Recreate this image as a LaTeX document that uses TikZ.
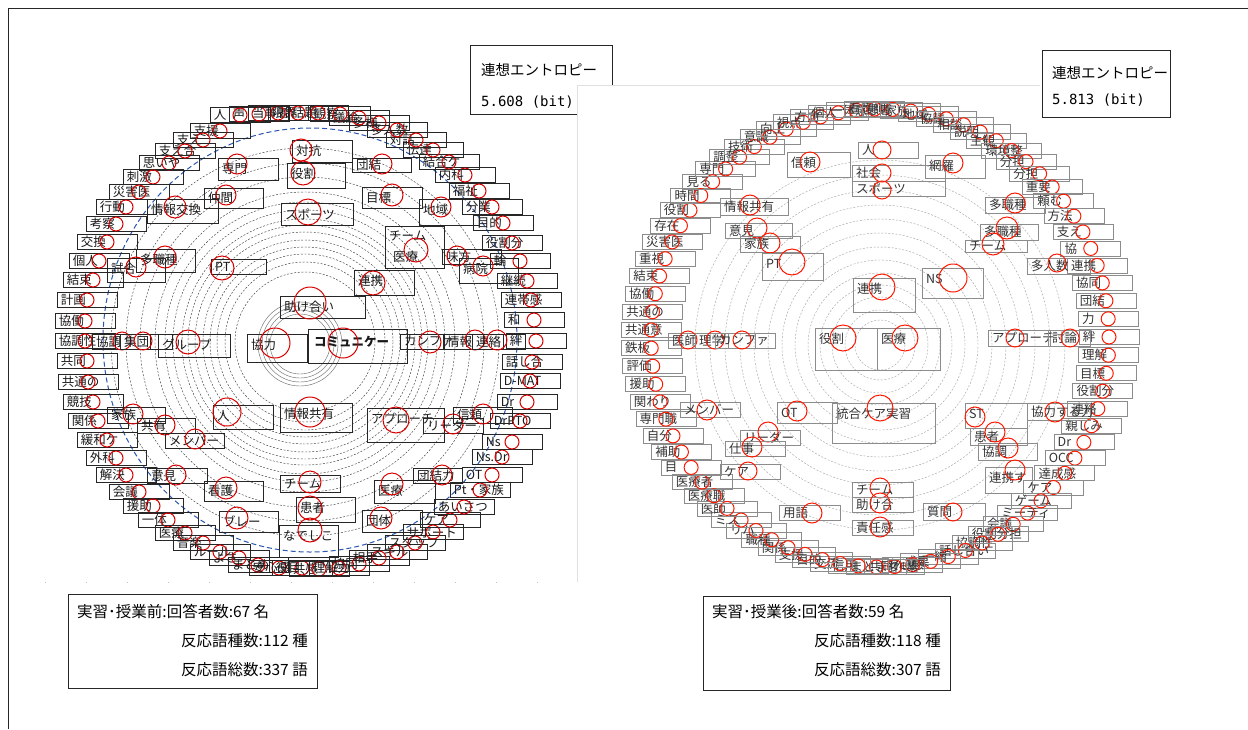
\documentclass[tikz,border=0pt]{standalone}
\usepackage{fontspec}
\newfontfamily\cjk{Noto Sans CJK JP}
\newfontfamily\mono{DejaVu Sans Mono}
\begin{document}
\newcommand\obx[4]{%
 \node[ob] (#1) at (#2,#3) {};%
 \node[tx,anchor=west] (#1t) at (#1.west) {#4};%
 \draw[rc] (#1.center) circle (7pt);}
\newcommand\ibx[9]{%
 \pgfmathsetmacro\bxw{#4-#2}%
 \pgfmathsetmacro\bxh{#5-#3}%
 \pgfmathsetmacro\bxcx{(#2+#4)/2}%
 \pgfmathsetmacro\bxcy{(#3+#5)/2}%
 \pgfmathsetmacro\bxty{#3+min((#5-#3)/2,11)}%
 \node[bx,minimum width=\bxw pt,minimum height=\bxh pt] (#1) at (\bxcx,\bxcy) {};%
 \node[tx,anchor=west] (#1t) at (#2,\bxty) {#6};%
 \draw[rc] (#8,#9) circle (#7pt);}
\begin{tikzpicture}[x=1pt,y=-1pt,
  ob/.style={draw=black!85, line width=0.7pt, minimum width=60pt, minimum height=15pt, inner sep=0pt},
  bx/.style={draw=black!85, line width=0.7pt, inner sep=0pt},
  tx/.style={inner xsep=4pt, inner ysep=0pt, text=black!90, font=\cjk\fontsize{12.5}{13}\selectfont},
  rc/.style={draw=red!85!black, line width=1pt},
  dc/.style={draw=black!75, line width=0.45pt, dash pattern=on 2pt off 1.6pt},
  it/.style={inner sep=0pt, font=\cjk\fontsize{15.5}{16}\selectfont},
  et/.style={inner sep=0pt, font=\cjk\fontsize{14.5}{15}\selectfont},
  em/.style={inner sep=0pt, font=\mono\fontsize{14}{15}\selectfont}]
\useasboundingbox (0,0) rectangle (1248,729);
\fill[white] (0,0) rectangle (1248,729);
% frame
\draw[black!85, line width=0.8pt] (8,729) -- (8,8) -- (1248,8);
\draw[black!25, line width=0.6pt, dash pattern=on 1pt off 40pt] (45,582) -- (575,582);

% ================= LEFT MAP =================
\foreach \r in {70,80,88,95,102,110,117,123,132,140,150,165,179,194}
  \draw[dc] (305,342) circle (\r pt);
\foreach \r in {30,34,38,42}
  \draw[black!60, line width=0.4pt] (300,344) circle (\r pt);
\draw[draw={rgb,255:red,40;green,85;blue,175}, line width=1pt, dash pattern=on 5pt off 3pt]
  (310,340) ellipse [x radius=207pt, y radius=212pt];

\foreach \t/\x/\y [count=\i] in {絆/536/341,和/534/320,連帯感/531/300,継続/527/281,輪/520/261,役割分/512/243,目的/503/223,分業/492/207,福祉/479/191,内科/465/175,結合ケ/449/162,伝達/433/150,対話/416/140,多人数/397/130,多様/379/123,議論/359/118,観察/340/114,話題/318/113,限界/298/113,当事者/278/113,声/259/114,人/240/115,支援/220/131,支え/203/140,支え合/185/151,思いや/169/163,刺激/153/177,災害医/139/192,行動/126/207,考察/116/224,交換/107/242,個人/99/261,結束/93/280,計画/87/300,協働/85/321,協調性/85/341,共同/87/361,共通の/88/382,競技/93/402,関係/98/421,緩和ケ/107/440,外科/116/458,解決/126/475,会議/139/492,援助/153/506,一体/168/520,医療/185/533,音楽/203/543,ルール/220/552,よさ/239/558,まとめ/258/565,安心感/279/568,役目/302/568,共感/319/569,理解力/339/568,協同/359/564,相手/379/558,スキル/397/552,スタッフ/415/543,サポート/433/532,ケア/450/520,あいさつ/464/507,Pt・家族/480/490,OT/492/475,Ns.Dr/502/457,Ns/512/442,DrPTO/520/421,Dr/527/402,D-MAT/530/381,話し合/532/362}
  {\obx{L\i}{\x}{\y}{\t}}

\ibx{a1}{218}{158}{278}{180}{専門}{10}{237}{164}
\ibx{a2}{204}{188}{263}{208}{仲間}{10}{226}{195}
\ibx{a3}{147}{199}{218}{223}{情報交換}{11}{175}{207}
\ibx{a4}{136}{249}{195}{272}{多職種}{11}{165}{257}
\ibx{a5}{107}{258}{165}{282}{試合}{10}{136}{267}
\ibx{a6}{211}{259}{266}{274}{PT}{12}{222}{268}
\ibx{a7}{292}{140}{352}{162}{対抗}{11}{301}{150}
\ibx{a8}{287}{163}{345}{188}{役割}{12}{303}{173}
\ibx{a9}{281}{203}{353}{225}{スポーツ}{13}{308}{212}
\ibx{a10}{352}{158}{411}{172}{団結}{10}{382}{164}
\ibx{a11}{362}{187}{422}{208}{目標}{11}{392}{195}
\ibx{a12}{419}{199}{479}{225}{地域}{10}{441}{207}
\node[bx, minimum width=59pt, minimum height=42pt] (a13) at (414.5,247) {};
\node[tx, anchor=west] (a13t) at (385,236) {チーム};
\node[tx, anchor=west] (a13u) at (389,257) {医療};
\draw[rc] (416,250) circle (12pt);
\ibx{a14}{442}{249}{501}{264}{味方}{10}{457}{256}
\ibx{a15}{459}{258}{518}{283}{病院}{10}{483}{266}
\ibx{a16}{354}{270}{414}{295}{連携}{12}{373}{283}
\ibx{a17}{280}{296}{365}{318}{助け合い}{16}{310}{303}
\ibx{a18}{247}{334}{307}{362}{協力}{15}{275}{343}
\node[bx, minimum width=99pt, minimum height=34pt] (a19) at (357.5,346) {};
\node[tx, anchor=west, font=\cjk\bfseries\fontsize{12.5}{13}\selectfont] (a19t) at (310,342) {コミュニケー};
\draw[rc] (343,343) circle (15pt);
\ibx{a20}{158}{334}{230}{357}{グループ}{12}{188}{342}
\ibx{a21}{92}{334}{150}{349}{協調}{9}{122}{341}
\ibx{a22}{120}{334}{172}{349}{集団}{9}{143}{341}
\ibx{a23}{400}{334}{444}{349}{カンファ}{11}{430}{342}
\ibx{a24}{443}{334}{503}{349}{情報}{10}{475}{340}
\ibx{a25}{472}{334}{525}{349}{連絡}{10}{497}{340}
\ibx{a26}{213}{405}{273}{429}{人}{14}{227}{412}
\ibx{a27}{280}{403}{352}{432}{情報共有}{15}{310}{412}
\ibx{a28}{367}{408}{444}{442}{アプローチ}{13}{396}{420}
\ibx{a29}{423}{418}{483}{433}{リーダー}{10}{453}{424}
\ibx{a30}{453}{407}{512}{423}{信頼}{10}{483}{414}
\ibx{a31}{107}{407}{165}{423}{家族}{10}{133}{414}
\ibx{a32}{137}{418}{195}{433}{共有}{10}{165}{425}
\ibx{a33}{165}{433}{224}{448}{メンバー}{10}{195}{439}
\ibx{a34}{147}{468}{207}{483}{意見}{10}{176}{475}
\ibx{a35}{204}{481}{263}{501}{看護}{11}{226}{488}
\ibx{a36}{219}{511}{278}{532}{ブレー}{11}{237}{518}
\ibx{a37}{280}{475}{340}{492}{チーム}{11}{310}{482}
\ibx{a38}{296}{497}{355}{522}{患者}{12}{310}{508}
\ibx{a39}{279}{525}{338}{557}{なでしこ}{12}{310}{530}
\ibx{a40}{374}{480}{435}{503}{医療}{11}{392}{484}
\ibx{a41}{413}{468}{462}{483}{団結力}{10}{442}{475}
\ibx{a42}{362}{510}{422}{532}{団体}{11}{381}{518}

% ================= LEFT ENTROPY BOX (partly covered by right panel) =================
\node[draw=black!85, line width=0.8pt, minimum width=142pt, minimum height=69pt, inner sep=0pt] (entL) at (541,79.5) {};
\node[et, anchor=west] (entL1) at (481,70) {連想エントロピー};
\node[em, anchor=west] (entL2) at (481,102) {5.608 (bit)};

% right panel (white image area)
\fill[white] (577,85) rectangle (1040,582);
\draw[black!12, line width=0.6pt] (577,582) -- (577,85) -- (1040,85);

% ================= RIGHT MAP =================
\begin{scope}[ob/.append style={draw=black!45}, bx/.append style={draw=black!45},
  tx/.append style={text=black!80}, rc/.append style={draw=red!80!orange},
  dc/.append style={draw=black!35}]
\foreach \r in {25,35,48,60,72,85,98,112,126,140,155,170,185}
  \draw[dc] (880,345) circle (\r pt);
\foreach \t [count=\i] in {絆,理解,目標,役割分,連絡,親しみ,Dr,OCC,達成感,ケア,ゲーム,ミーティ,会議,役割分担,協調性,話し合い,一緒,成果,安心感,共同作業,まとまり,信用,交流,目的,支援,関係,職種,リハ,ミス,医師,医療職,医療者,目,補助,自分,専門職,関わり,援助,評価,鉄板,共通意,共通の,協働,結束,重視,災害医,存在,役割,時間,見る,専門,調整,技術,意識,向上,視点,方向,個人,一体感,看護師,患者,家族,地域,協議,相談,説明,主観,環境整,分担,分担,重要,頼む,方法,支え,協,連携,協同,団結,力}
{
  \pgfmathsetmacro\ra{-0.25+(\i-1)*4.557}
  \pgfmathsetmacro\rx{880+229*cos(\ra)}
  \pgfmathsetmacro\ry{338+229*sin(\ra)}
  \obx{R\i}{\rx}{\ry}{\t}
}
\ibx{b1}{858}{142}{918}{158}{人}{9}{882}{150}
\ibx{b2}{852}{165}{945}{181}{社会}{9}{882}{173}
\ibx{b3}{852}{181}{945}{196}{スポーツ}{9}{882}{190}
\ibx{b4}{787}{152}{850}{177}{信頼}{10}{810}{162}
\ibx{b5}{720}{198}{788}{215}{情報共有}{10}{750}{205}
\ibx{b6}{725}{223}{792}{238}{意見}{10}{757}{228}
\ibx{b7}{740}{236}{800}{252}{家族}{10}{770}{243}
\ibx{b8}{762}{253}{823}{280}{PT}{13}{792}{262}
\ibx{b9}{853}{278}{915}{312}{連携}{13}{882}{287}
\ibx{b10}{922}{268}{983}{298}{NS}{14}{953}{278}
\ibx{b11}{815}{328}{877}{370}{役割}{13}{843}{338}
\ibx{b12}{877}{328}{940}{370}{医療}{13}{905}{338}
\ibx{b13}{832}{403}{935}{443}{統合ケア実習}{13}{880}{408}
\ibx{b14}{777}{402}{837}{423}{OT}{10}{797}{411}
\ibx{b15}{925}{155}{985}{178}{網羅}{10}{953}{163}
\ibx{b16}{985}{197}{1045}{213}{多職種}{10}{1015}{203}
\ibx{b17}{980}{224}{1038}{240}{多職種}{11}{1007}{228}
\ibx{b18}{965}{240}{1027}{252}{チーム}{11}{993}{244}
\ibx{b19}{1027}{258}{1090}{274}{多人数}{9}{1057}{263}
\ibx{b20}{988}{330}{1050}{346}{アプローチ}{9}{1015}{338}
\ibx{b21}{1048}{330}{1090}{346}{討論}{9}{1070}{338}
\ibx{b22}{965}{403}{1027}{428}{ST}{10}{975}{417}
\ibx{b23}{1027}{403}{1090}{420}{協力する力}{10}{1055}{412}
\ibx{b24}{970}{428}{1027}{445}{患者}{10}{995}{432}
\ibx{b25}{978}{443}{1037}{460}{協調}{10}{1008}{448}
\ibx{b26}{985}{467}{1032}{493}{連携す}{10}{1015}{470}
\ibx{b27}{923}{503}{985}{520}{質問}{9}{953}{512}
\ibx{b28}{852}{482}{913}{497}{チーム}{10}{880}{488}
\ibx{b29}{852}{497}{913}{512}{助け合}{10}{880}{503}
\ibx{b30}{852}{520}{913}{535}{責任感}{10}{880}{527}
\ibx{b31}{779}{505}{840}{520}{用語}{10}{812}{513}
\ibx{b32}{720}{464}{780}{479}{ケア}{9}{748}{471}
\ibx{b33}{740}{430}{800}{445}{リーダー}{10}{768}{432}
\ibx{b34}{725}{441}{785}{456}{仕事}{10}{752}{447}
\ibx{b35}{680}{402}{740}{417}{メンバー}{10}{707}{410}
\ibx{b36}{668}{333}{728}{348}{医師}{9}{688}{340}
\ibx{b37}{695}{333}{755}{348}{理学}{9}{715}{340}
\ibx{b38}{715}{333}{775}{348}{カンファ}{9}{742}{340}
\end{scope}

% ================= RIGHT ENTROPY BOX =================
\node[draw=black!85, line width=0.8pt, fill=white, minimum width=128pt, minimum height=67pt, inner sep=0pt] (entR) at (1106,83.5) {};
\node[et, anchor=west] (entR1) at (1052,73) {連想エントロピー};
\node[em, anchor=west] (entR2) at (1052,100) {5.813 (bit)};

% ================= INFO BOXES =================
\node[draw=black!85, line width=0.8pt, minimum width=249pt, minimum height=94pt, inner sep=0pt] (infoL) at (192.5,641) {};
\node[it, anchor=west] (infoL1) at (77,612) {実習･授業前:回答者数:67 名};
\node[it, anchor=east] (infoL2) at (308,641) {反応語種数:112 種};
\node[it, anchor=east] (infoL3) at (308,670) {反応語総数:337 語};
\node[draw=black!85, line width=0.8pt, minimum width=247pt, minimum height=94pt, inner sep=0pt] (infoR) at (826.5,643) {};
\node[it, anchor=west] (infoR1) at (712,612) {実習･授業後:回答者数:59 名};
\node[it, anchor=east] (infoR2) at (941,641) {反応語種数:118 種};
\node[it, anchor=east] (infoR3) at (941,670) {反応語総数:307 語};
\end{tikzpicture}
\end{document}
